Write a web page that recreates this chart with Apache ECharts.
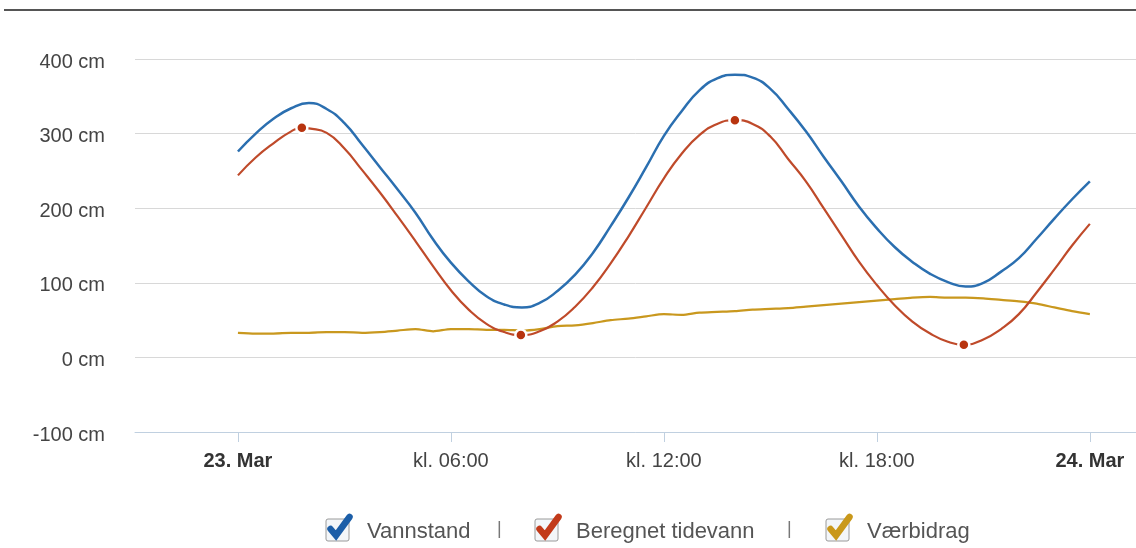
<!DOCTYPE html>
<html>
<head>
<meta charset="utf-8">
<script src="https://cdn.jsdelivr.net/npm/echarts@6/dist/echarts.min.js"></script>
<style>
html,body{margin:0;padding:0;background:#fff;}
#chart{width:1136px;height:548px;}
</style>
</head>
<body>
<div id="chart"></div>
<script>
// Hours relative to 23. Mar 00:00
const levelHours = [0,0.5,1,1.5,2,2.5,3,3.5,4,4.5,5,5.5,6,6.5,7,7.5,8,8.5,9,9.5,10,10.5,11,11.5,12,12.5,13,13.5,14,14.5,15,15.5,16,16.5,17,17.5,18,18.5,19,19.5,20,20.5,21,21.5,22,22.5,23,23.5,24];
const levelCm    = [276,300,320,334,341,333,314,285,255,225,194,158,127,102,82,71,67,73,89,111,140,176,214,255,297,330,358,374,379,375,360,333,303,269,236,202,173,148,128,112,101,95,100,115,133,159,186,212,236];

const tideHours = [0,0.5,1,1.5,1.8,2,2.5,3,3.5,4,4.5,5,5.5,6,6.5,7,7.5,7.97,8.5,9,9.5,10,10.5,11,11.5,12,12.5,13,13.5,14,14.5,15,15.5,16,16.5,17,17.5,18,18.5,19,19.5,20,20.45,21,21.5,22,22.5,23,23.5,24];
const tideCm    = [244,268,287,303,308,307,301,280,251,221,189,156,122,90,64,45,34,30,35,48,68,94,126,162,201,240,273,298,313,318,313,296,266,236,200,164,128,97,70,48,32,21,17,24,38,58,87,118,150,179];
const tideExtremeHours = [1.8,7.97,14,20.45];

const weatherHours = [0,0.5,1,1.5,2,2.5,3,3.5,4,4.5,5,5.5,6,6.5,7,7.5,8,8.5,9,9.5,10,10.5,11,11.5,12,12.5,13,13.5,14,14.5,15,15.5,16,16.5,17,17.5,18,18.5,19,19.5,20,20.5,21,21.5,22,22.5,23,23.5,24];
const weatherCm    = [33,32,32,33,33,34,34,33,34,36,38,35,38,38,37,37,36,38,42,43,46,50,52,55,58,57,60,61,62,64,65,66,68,70,72,74,76,78,80,81,80,80,79,77,75,72,67,62,58];

const seriesNames = ['Vannstand','Beregnet tidevann','Værbidrag'];
const xTickValues = [0,6,12,18,24];
const xTickLabels = ['23. Mar','kl. 06:00','kl. 12:00','kl. 18:00','24. Mar'];
const xBoldTicks = [0,24];
const yTickSuffix = ' cm';

const colors = ['#2b6fb0','#bf4a2a','#c9981e'];
const checkColors = ['#1c5ea8','#c23a1a','#c9981a'];

const zip = (h, v) => h.map((x, i) => [x, v[i]]);
const tideData = tideHours.map((h, i) => {
  const isExt = tideExtremeHours.indexOf(h) >= 0;
  return isExt ? { value: [h, tideCm[i]], symbol: 'circle', symbolSize: 11 } : { value: [h, tideCm[i]], symbol: 'none' };
});

const font = '"Liberation Sans", Arial, sans-serif';
const chart = echarts.init(document.getElementById('chart'), null, { renderer: 'canvas' });

const boxLefts = [326, 535, 826];
const legendLefts = [329, 538, 829];

function legendFor(i) {
  return {
    show: true,
    left: legendLefts[i],
    top: 515,
    orient: 'horizontal',
    itemWidth: 22,
    itemHeight: 24,
    z: 3,
    icon: 'rect',
    itemStyle: { color: 'rgba(0,0,0,0)', borderWidth: 0, borderColor: 'rgba(0,0,0,0)' },
    lineStyle: { width: 0, color: 'rgba(0,0,0,0)' },
    data: [{ name: seriesNames[i], itemStyle: { color: 'rgba(0,0,0,0)', borderWidth: 0, borderColor: 'rgba(0,0,0,0)' } }],
    textStyle: { fontFamily: font, fontSize: 22, color: '#555', padding: [0, 0, 0, 6] },
    inactiveColor: 'rgba(0,0,0,0)',
    inactiveBorderColor: 'rgba(0,0,0,0)'
  };
}

function checkbox(i) {
  const x = boxLefts[i];
  return [
    { type: 'rect', z: 10, shape: { x: x, y: 519, width: 23, height: 22, r: 2 }, style: { fill: '#f3f6f9', stroke: '#9a9a9a', lineWidth: 1 } },
    { type: 'polyline', z: 11, shape: { points: [[x + 4.5, 529], [x + 10, 535.5], [x + 23.5, 517]] },
      style: { stroke: checkColors[i], lineWidth: 6.5, lineCap: 'round', lineJoin: 'miter', fill: null } }
  ];
}

const option = {
  backgroundColor: '#ffffff',
  animation: false,
  grid: { left: 135, right: 0, top: 59, bottom: 116, containLabel: false, outerBoundsMode: 'none' },
  xAxis: {
    type: 'value',
    min: -2.9,
    max: 25.3,
    splitLine: { show: false },
    axisLine: { show: true, onZero: false, lineStyle: { color: '#c0d0e0', width: 1 } },
    axisTick: { show: true, customValues: xTickValues, length: 10, lineStyle: { color: '#c0d0e0' } },
    axisLabel: {
      customValues: xTickValues,
      margin: 19,
      fontFamily: font,
      fontSize: 20,
      color: '#444',
      formatter: function (v) {
        const idx = xTickValues.indexOf(v);
        const txt = idx >= 0 ? xTickLabels[idx] : '';
        return xBoldTicks.indexOf(v) >= 0 ? '{b|' + txt + '}' : '{n|' + txt + '}';
      },
      rich: {
        b: { fontFamily: font, fontSize: 20, fontWeight: 'bold', color: '#333' },
        n: { fontFamily: font, fontSize: 20, color: '#444' }
      }
    }
  },
  yAxis: {
    type: 'value',
    min: -100,
    max: 400,
    interval: 100,
    axisLine: { show: false },
    axisTick: { show: false },
    splitLine: { show: true, lineStyle: { color: '#d8d8d8', width: 1 } },
    axisLabel: {
      margin: 30,
      fontFamily: font,
      fontSize: 20,
      color: '#444',
      formatter: function (v) { return '{a|' + v + yTickSuffix + '}'; },
      rich: {
        a: { fontFamily: font, fontSize: 20, color: '#444', padding: [6, 0, 0, 0] }
      }
    }
  },
  legend: [legendFor(0), legendFor(1), legendFor(2)],
  graphic: [
    { type: 'line', z: 0, shape: { x1: 4, y1: 10, x2: 1136, y2: 10 }, style: { stroke: '#555', lineWidth: 2 } },
    ...checkbox(0), ...checkbox(1), ...checkbox(2),
    { type: 'text', z: 10, x: 497, y: 520, style: { text: '|', fontFamily: font, fontSize: 18, fill: '#777' } },
    { type: 'text', z: 10, x: 787, y: 520, style: { text: '|', fontFamily: font, fontSize: 18, fill: '#777' } }
  ],
  series: [
    {
      name: seriesNames[0], type: 'line', smooth: 0.5, showSymbol: false,
      data: zip(levelHours, levelCm),
      lineStyle: { color: colors[0], width: 2.5 }, itemStyle: { color: colors[0] }, z: 3
    },
    {
      name: seriesNames[1], type: 'line', smooth: 0.5, showSymbol: true, showAllSymbol: true, symbol: 'none',
      data: tideData,
      lineStyle: { color: colors[1], width: 2.2 },
      itemStyle: { color: '#b8340f', borderColor: '#ffffff', borderWidth: 2.5 }, z: 4
    },
    {
      name: seriesNames[2], type: 'line', smooth: 0.3, showSymbol: false,
      data: zip(weatherHours, weatherCm),
      lineStyle: { color: colors[2], width: 2.2 }, itemStyle: { color: colors[2] }, z: 2
    }
  ]
};
chart.setOption(option);
</script>
</body>
</html>
